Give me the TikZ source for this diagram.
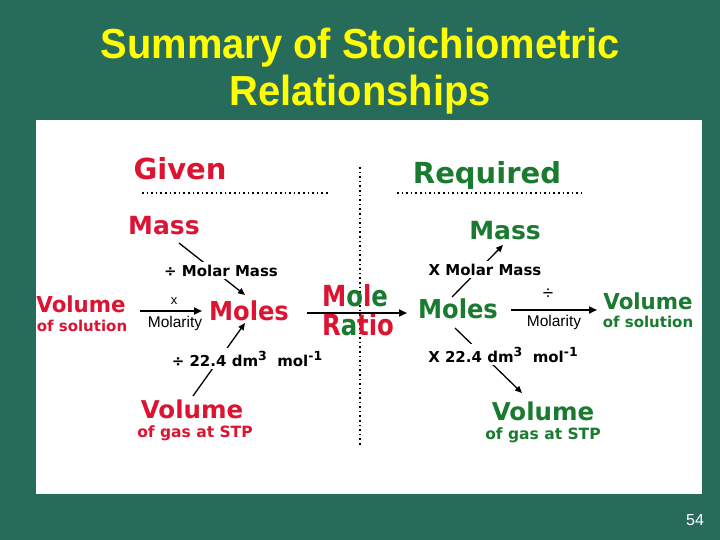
\documentclass[tikz,border=0pt]{standalone}
\usepackage{fontspec}
\setmainfont{Liberation Sans}
\newfontfamily\dvs{DejaVu Sans}
\usetikzlibrary{arrows.meta}
\definecolor{bg}{HTML}{276B5B}
\definecolor{rd}{HTML}{DC1432}
\definecolor{gn}{HTML}{1A7A30}
\definecolor{ttl}{HTML}{FFFF00}
\newcommand\mysup[1]{\raisebox{0.4em}{\fontsize{12.5}{12.5}\selectfont #1}}
\tikzset{
  bigtxt/.style={font=\dvs\bfseries\fontsize{#1}{#1}\selectfont, inner sep=0pt, anchor=base},
  lab/.style={font=\dvs\bfseries\fontsize{15}{15}\selectfont, fill=white, inner sep=2.5pt, anchor=base},
  smalltxt/.style={font=\fontsize{#1}{#1}\selectfont, inner sep=0pt, anchor=base},
  dotline/.style={line width=1.6pt, dash pattern=on 1.6pt off 3pt},
  thinarr/.style={line width=1.3pt, -{Triangle[length=7pt,width=6pt]}},
  thickarr/.style={line width=2.2pt, -{Triangle[length=8pt,width=7pt]}}
}
\begin{document}
\begin{tikzpicture}[x=1pt,y=-1pt]
\fill[bg] (0,0) rectangle (720,540);
\useasboundingbox (0,0) rectangle (720,540);
\fill[white] (36,120) rectangle (702,494);

% title
\node[font=\bfseries\fontsize{42}{42}\selectfont, text=ttl, inner sep=0pt, anchor=base] (t1) at (360,59) {\scalebox{0.95}[1]{Summary of Stoichiometric}};
\node[font=\bfseries\fontsize{42}{42}\selectfont, text=ttl, inner sep=0pt, anchor=base] (t2) at (360,106) {\scalebox{0.95}[1]{Relationships}};
\node[smalltxt=16, text=white] (pg) at (695,525) {54};

% dotted separators
\draw[dotline] (142,193) -- (328,193);
\draw[dotline] (397,193) -- (582,193);
\draw[dotline] (360,167) -- (360,445);

% main words
\node[bigtxt=29, text=rd] (given) at (180,180) {Given};
\node[bigtxt=29, text=gn] (req) at (487,184) {Required};
\node[bigtxt=25, text=rd] (massL) at (164,235) {Mass};
\node[bigtxt=25, text=gn] (massR) at (505,240) {Mass};
\node[bigtxt=26, text=rd] (molesL) at (249,320) {\scalebox{0.93}[1]{Moles}};
\node[bigtxt=26, text=gn] (molesR) at (458,318) {\scalebox{0.93}[1]{Moles}};
\node[bigtxt=22, text=rd] (volL) at (81,312) {\scalebox{0.97}[1]{Volume}};
\node[bigtxt=15, text=rd] (solL) at (82,331) {of solution};
\node[bigtxt=22, text=gn] (volR) at (648,309) {\scalebox{0.97}[1]{Volume}};
\node[bigtxt=15, text=gn] (solR) at (648,327) {of solution};
\node[bigtxt=29] (mole) at (355,306) {\scalebox{0.84}[1]{\color{rd}M\color{gn}o\color{rd}l\color{gn}e}};
\node[bigtxt=29] (ratio) at (358,335) {\scalebox{0.84}[1]{\color{rd}R\color{gn}a\color{rd}tio}};
\node[bigtxt=24.5, text=rd] (volGL) at (192,418) {Volume};
\node[bigtxt=15.5, text=rd] (gasL) at (195,437) {of gas at STP};
\node[bigtxt=24.5, text=gn] (volGR) at (543,420) {Volume};
\node[bigtxt=15.5, text=gn] (gasR) at (543,439) {of gas at STP};

% small labels on horizontal arrows
\node[smalltxt=13] (xL) at (174,304) {x};
\node[smalltxt=15.5] (molyL) at (175,327) {Molarity};
\node[smalltxt=19] (divR) at (548,299) {÷};
\node[smalltxt=15.5] (molyR) at (554,326) {Molarity};

% connectors
\draw[thickarr] ([shift={(59,-1)}]volL.base) -- ([shift={(-47,-9)}]molesL.base);
\draw[thickarr] ([shift={(58,-7)}]molesL.base) -- ([shift={(-51,-5)}]molesR.base);
\draw[thickarr] ([shift={(53,-8)}]molesR.base) -- ([shift={(-51,1)}]volR.base);
\draw[thinarr] ([shift={(15,8)}]massL.base) -- ([shift={(-4,-25)}]molesL.base);
\draw[thinarr] ([shift={(-6,-21)}]molesR.base) -- ([shift={(-2,5)}]massR.base);
\draw[thinarr] ([shift={(1,-22)}]volGL.base) -- ([shift={(-4,3)}]molesL.base);
\draw[thinarr] ([shift={(-3,10)}]molesR.base) -- ([shift={(-21,-27)}]volGR.base);

% labels on diagonal connectors
\node[lab] (mmL) at (221,276) {÷ Molar Mass};
\node[lab] (mmR) at (485,275) {X Molar Mass};
\node[lab] (gvL) at (247,366) {÷ 22.4 dm\mysup{3}\ \ mol\mysup{-1}};
\node[lab] (gvR) at (503,362) {X 22.4 dm\mysup{3}\ \ mol\mysup{-1}};
\end{tikzpicture}
\end{document}
